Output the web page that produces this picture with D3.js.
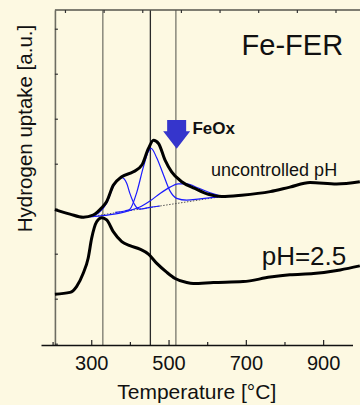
<!DOCTYPE html>
<html>
<head>
<meta charset="utf-8">
<script src="https://cdn.jsdelivr.net/npm/d3@7"></script>
<style>
  html, body { margin: 0; padding: 0; background: #fdf9e2; }
  svg { display: block; font-family: "Liberation Sans", Arial, sans-serif; }
</style>
</head>
<body>
<div id="chart"></div>
<script>
// ---------- data (temperature in °C, hydrogen uptake in a.u.) ----------
const upperT = [206, 245, 279, 305, 327, 340, 357, 379, 409, 431, 448, 461, 474, 491, 508, 534, 568, 603, 638, 689, 763, 814, 866, 935, 995];
const upperV = [29.8, 28.8, 28.1, 28.6, 30.2, 31.6, 35.2, 37.1, 38.2, 39.7, 43.4, 45.2, 44.5, 40.8, 38.2, 36.0, 34.5, 33.2, 32.7, 33.0, 33.8, 34.8, 35.8, 35.5, 36.0];

const lowerT = [206, 245, 262, 279, 292, 301, 314, 327, 340, 357, 379, 400, 426, 448, 469, 495, 517, 547, 564, 616, 693, 763, 814, 875, 944, 995];
const lowerV = [11.0, 11.4, 12.7, 15.6, 19.0, 23.4, 27.1, 28.0, 27.5, 24.9, 22.7, 21.8, 21.0, 19.9, 17.9, 15.9, 14.5, 13.6, 13.4, 13.6, 13.8, 14.8, 15.3, 15.6, 16.4, 17.3];

const peak1T = [279, 297, 318, 340, 357, 368, 379, 392, 400, 413, 426, 452, 478];
const peak1V = [28.0, 28.3, 29.0, 31.2, 34.9, 36.3, 36.9, 35.6, 33.4, 30.8, 29.9, 30.3, 30.6];

const peak2T = [362, 387, 400, 418, 435, 448, 455, 469, 487, 504, 521, 547, 581, 638];
const peak2V = [29.2, 29.5, 29.9, 33.7, 39.3, 42.7, 43.4, 41.4, 37.5, 33.9, 32.3, 31.9, 32.2, 32.7];

const peak3T = [297, 336, 374, 400, 431, 452, 478, 504, 525, 547, 577, 612, 638];
const peak3V = [28.2, 28.5, 29.0, 29.6, 30.6, 31.7, 33.4, 34.8, 35.5, 35.5, 34.6, 33.4, 32.7];

const baseT = [279, 638];
const baseV = [28.0, 32.7];

const markerT = [330, 453, 519];           // vertical reference lines
const bottomTicks = [200, 300, 400, 500, 600, 700, 800, 900];
const bottomLabels = [300, 500, 700, 900];
const topTicks = [232, 332, 432, 532, 632, 732, 832, 932];
const leftTicks = [0, 10, 20, 30, 40, 50, 60, 70];

const arrowT = 521, arrowTopV = 49.7, arrowTipV = 43.3;

const labels = [
  { text: "Fe-FER", T: 689, v: 64.2, size: 29, weight: "normal" },
  { text: "FeOx", T: 562, v: 46.6, size: 17, weight: "bold" },
  { text: "uncontrolled pH", T: 610, v: 37.2, size: 18, weight: "normal" },
  { text: "pH=2.5", T: 741, v: 17.5, size: 26, weight: "normal" }
];

// ---------- layout ----------
const W = 360, H = 405;
const svg = d3.select("#chart").append("svg").attr("width", W).attr("height", H);
svg.append("rect").attr("width", W).attr("height", H).attr("fill", "#fdf9e2");

const x = d3.scaleLinear().domain([170, 976]).range([41, 352.5]);
const y = d3.scaleLinear().domain([-0.29, 74.16]).range([345, 10]);
const yAxisT = 206;

// vertical marker lines
const markerColors = ["#77776c", "#2a2a2a", "#77776c"];
svg.selectAll("line.marker").data(markerT).enter().append("line")
  .attr("class", "marker")
  .attr("x1", d => x(d)).attr("x2", d => x(d))
  .attr("y1", y.range()[1]).attr("y2", y.range()[0])
  .attr("stroke", (d, i) => markerColors[i]).attr("stroke-width", 1.3);

// left axis (ticks pointing inward)
const gLeft = svg.append("g").attr("transform", `translate(${x(yAxisT)},0)`)
  .call(d3.axisRight(y).tickValues(leftTicks).tickSize(3).tickSizeOuter(0).tickFormat(""));
gLeft.select(".domain").attr("stroke", "#6d6d62").attr("stroke-width", 1.6);
gLeft.selectAll(".tick line").attr("stroke", "#333").attr("stroke-width", 1.2);

// top line and ticks
svg.append("line").attr("x1", x(yAxisT)).attr("x2", W)
  .attr("y1", y.range()[1]).attr("y2", y.range()[1])
  .attr("stroke", "#55554c").attr("stroke-width", 1.5);
const gTop = svg.append("g").attr("transform", `translate(0,${y.range()[1]})`)
  .call(d3.axisBottom(x).tickValues(topTicks).tickSize(3).tickSizeOuter(0).tickFormat(""));
gTop.select(".domain").remove();
gTop.selectAll(".tick line").attr("stroke", "#333").attr("stroke-width", 1.2);

// bottom axis
const gBot = svg.append("g").attr("transform", `translate(0,${y.range()[0]})`)
  .call(d3.axisBottom(x).tickValues(bottomTicks).tickSizeInner(-3).tickSizeOuter(0)
    .tickPadding(10.5)
    .tickFormat(d => bottomLabels.includes(d) ? String(d) : ""));
gBot.select(".domain").attr("stroke", "#111").attr("stroke-width", 1.5);
gBot.selectAll(".tick line").attr("stroke", "#222").attr("stroke-width", 1.2)
  .attr("y2", d => bottomLabels.includes(d) ? -5 : -3);
gBot.selectAll(".tick text").attr("fill", "#111").style("font-size", "20px")
  .style("font-family", "'Liberation Sans', Arial, sans-serif");

// axis titles
svg.append("text").attr("x", (x(170) + x(976)) / 2).attr("y", 399)
  .attr("text-anchor", "middle").attr("fill", "#111").style("font-size", "21px")
  .text("Temperature [°C]");
svg.append("text").attr("transform", `translate(31.5,${(y.range()[0] + y.range()[1]) / 2 - 49}) rotate(-90)`)
  .attr("text-anchor", "middle").attr("fill", "#111").style("font-size", "20.5px")
  .text("Hydrogen uptake [a.u.]");

// curves
const line = d3.line().x(d => x(d[0])).y(d => y(d[1])).curve(d3.curveMonotoneX);
const zip = (a, b) => a.map((t, i) => [t, b[i]]);

svg.append("path").datum(zip(baseT, baseV))
  .attr("d", d3.line().x(d => x(d[0])).y(d => y(d[1])))
  .attr("fill", "none").attr("stroke", "#555").attr("stroke-width", 1)
  .attr("stroke-dasharray", "1.5,1.5");

[[peak1T, peak1V], [peak2T, peak2V], [peak3T, peak3V]].forEach(([t, v]) => {
  svg.append("path").datum(zip(t, v)).attr("d", line)
    .attr("fill", "none").attr("stroke", "#1a1aff").attr("stroke-width", 1.2);
});

svg.append("path").datum(zip(lowerT, lowerV)).attr("d", line)
  .attr("fill", "none").attr("stroke", "#000").attr("stroke-width", 3).attr("stroke-linejoin", "round");
svg.append("path").datum(zip(upperT, upperV)).attr("d", line)
  .attr("fill", "none").attr("stroke", "#000").attr("stroke-width", 3).attr("stroke-linejoin", "round");

// FeOx arrow
const ax = x(arrowT), aTop = y(arrowTopV), aTip = y(arrowTipV);
const shaftHalf = 9.5, headHalf = 13.5, headLen = 17.5;
const arrowPts = [
  [ax - shaftHalf, aTop], [ax + shaftHalf, aTop], [ax + shaftHalf, aTip - headLen],
  [ax + headHalf, aTip - headLen], [ax, aTip], [ax - headHalf, aTip - headLen],
  [ax - shaftHalf, aTip - headLen]
];
svg.append("polygon").attr("points", arrowPts.map(p => p.join(",")).join(" "))
  .attr("fill", "#3535cc");

// text labels
svg.selectAll("text.lbl").data(labels).enter().append("text")
  .attr("class", "lbl")
  .attr("x", d => x(d.T)).attr("y", d => y(d.v))
  .attr("fill", "#111")
  .style("font-size", d => d.size + "px").style("font-weight", d => d.weight)
  .text(d => d.text);
</script>
</body>
</html>
